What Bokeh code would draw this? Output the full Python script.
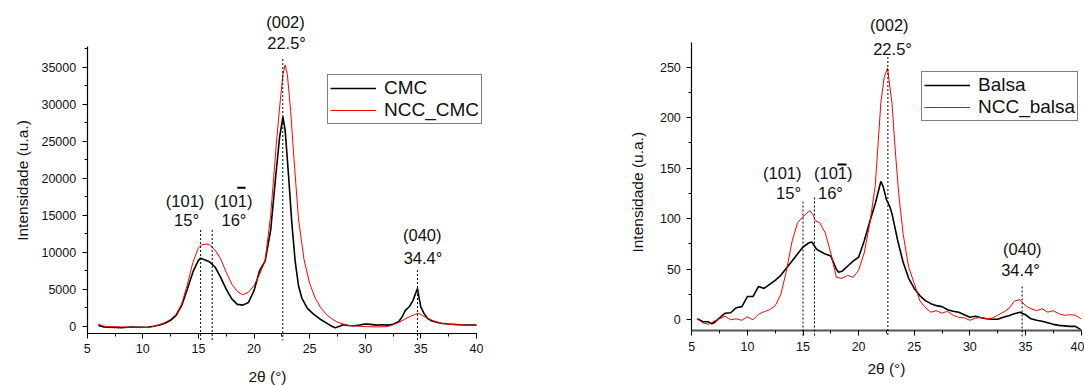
import math
from bokeh.plotting import figure
from bokeh.models import Range1d, SingleIntervalTicker, Label, Arrow, Legend
from bokeh.layouts import row
from bokeh.embed import file_html
from bokeh.resources import INLINE

# ---------------- data: left panel (CMC) ----------------
cmc_x = [6.0, 6.5, 7, 8, 9, 10, 10.5, 11, 11.5, 12, 12.5, 13, 13.5, 14, 14.5, 15, 15.2, 15.5, 16, 16.5,
         17, 17.5, 18, 18.5, 19, 19.5, 20, 20.5, 21, 21.5, 22, 22.3, 22.6, 22.8, 23.1, 23.4, 23.7, 24.0,
         24.3, 24.8, 25.3, 26, 26.5, 27, 27.3, 27.7, 28, 28.5, 29, 29.5, 30, 30.5, 31, 31.5, 32, 32.5,
         33, 33.3, 33.6, 34, 34.3, 34.5, 34.7, 34.85, 35, 35.3, 35.6, 36, 36.8, 37.5, 38.5, 40]
cmc_y = [100, -100, -150, -200, -100, -150, -100, 0, 150, 400, 800, 1450, 2800, 5000, 7300, 8900, 9200, 9000, 8700, 8000,
         6600, 5000, 3700, 2950, 2850, 3200, 4800, 7500, 8800, 13000, 21000, 25500, 28300, 26500, 20500, 14000, 8800, 5500,
         3800, 2400, 1700, 900, 450, 0, -200, 0, 200, 100, 50, 150, 300, 250, 150, 200, 150, 250,
         600, 1200, 2100, 2700, 3500, 4300, 5100, 3800, 2600, 1700, 1050, 700, 400, 300, 200, 150]

ncc_cmc_x = [6.0, 6.5, 7, 8, 9, 10, 10.5, 11, 11.5, 12, 12.5, 13, 13.5, 14, 14.5, 15, 15.3, 15.7, 16, 16.5,
             17, 17.5, 18, 18.5, 19, 19.5, 20, 20.5, 21, 21.5, 22, 22.3, 22.6, 22.8, 23.0, 23.3, 23.6, 24.0,
             24.5, 25, 25.5, 26, 26.5, 27, 27.5, 28, 28.5, 29, 30, 31, 32, 32.5, 33, 33.5, 34, 34.5, 34.8,
             35.2, 35.6, 36, 36.5, 37, 38, 39, 40]
ncc_cmc_y = [300, 0, -50, -100, -150, -150, -200, 0, 200, 500, 900, 1600, 3000, 5600, 8600, 10600, 11000, 11100, 11000, 10300,
             9100, 7300, 5700, 4700, 4250, 4600, 5500, 7000, 8800, 15000, 24500, 29500, 34000, 35300, 34000, 29000, 22500, 14500,
             9000, 5800, 3800, 2500, 1600, 1000, 550, 300, 100, 50, -50, -100, -50, 200, 500, 900, 1300, 1600, 1750,
             1400, 1100, 800, 550, 350, 200, 150, 100]

# ---------------- data: right panel (Balsa) ----------------
balsa_x = [5.5, 6, 6.5, 6.8, 7, 7.5, 8, 8.5, 9, 9.5, 10, 10.5, 11, 11.5, 12, 12.5, 13, 13.5, 14, 14.5, 15,
           15.5, 15.8, 16.2, 16.5, 17, 17.5, 18, 18.2, 18.5, 19, 19.5, 20, 20.5, 21, 21.5, 22, 22.2, 22.5,
           22.8, 23, 23.5, 24, 24.5, 25, 25.5, 26, 26.5, 27, 27.5, 28, 28.5, 29, 29.5, 30, 30.5, 31, 31.5,
           32, 32.5, 33, 33.5, 34, 34.5, 35, 35.5, 36, 36.5, 37, 37.5, 38, 38.5, 39, 39.5, 40]
balsa_y = [1, -2, -2, -4, -3, 2, 6.5, 7, 12, 13, 23, 23, 33, 31, 35, 39, 44, 51, 58, 65, 72,
           76, 77, 70, 68, 65, 63, 50, 47, 48, 53, 58, 62, 78, 97, 115, 137, 132, 119,
           112, 105, 79, 57, 41, 31, 24, 19, 16, 14, 13, 10, 8.5, 7.5, 5, 2.5, 3.5, 2, 1,
           0.5, 0.5, 2.5, 4, 6, 7.5, 5, 1, -0.5, -1.5, -3, -4.5, -5.5, -6, -6.5, -6.5, -10]

ncc_balsa_x = [5.5, 6, 6.5, 7, 7.5, 8, 8.5, 9, 9.5, 10, 10.5, 11, 11.5, 12, 12.5, 13, 13.5, 14, 14.5, 15,
               15.3, 15.6, 15.9, 16.1, 16.5, 17, 17.5, 18, 18.5, 19, 19.5, 20, 20.5, 21, 21.5, 22, 22.3, 22.6,
               23, 23.3, 23.6, 24, 24.5, 25, 25.5, 26, 26.5, 27, 27.5, 28, 28.5, 29, 29.5, 30, 30.5, 31, 31.5,
               32, 32.5, 33, 33.5, 34, 34.5, 35, 35.5, 36, 36.5, 37, 37.5, 38, 38.5, 39, 39.5, 40]
ncc_balsa_y = [1, -3, -4.5, -1.5, 1, 3.5, 0, 1, -0.5, 3, 0, 5.5, 8, 10, 14, 25, 48, 77, 96, 102,
               105, 108, 104, 98, 96, 86, 66, 42, 41, 44, 42, 49, 66, 95, 133, 215, 240, 249,
               214, 167, 125, 85, 52, 36, 19, 12, 7.5, 9, 6.5, 8.5, 4.5, 2.5, 2, -0.5, 1.5, 2.5, 1,
               1.5, 4.5, 7.5, 11, 18.5, 20, 14, 11, 9, 11, 7.5, 9, 6, 4.5, 5, 4.5, 1]

# peak marker lines (x position, top y)
left_peaks_x = [15.2, 16.24, 22.59, 34.7]
left_peaks_top = [13000, 13000, 36100, 7600]
right_peaks_x = [15.0, 16.03, 22.63, 34.7]
right_peaks_top = [117, 121, 260, 33]

FONT = "Liberation Sans"
TXT = "#111111"


def make_fig(width, x_range, y_range, x_bounds, y_bounds, x_axis_at, y_interval):
    p = figure(width=width, height=385, output_backend="svg", toolbar_location=None,
               x_range=x_range, y_range=y_range, min_border=0)
    p.outline_line_color = None
    p.grid.visible = False
    p.background_fill_color = "white"
    p.border_fill_color = "white"
    p.xaxis.ticker = SingleIntervalTicker(interval=5, num_minor_ticks=2)
    p.yaxis.ticker = SingleIntervalTicker(interval=y_interval, num_minor_ticks=2)
    p.xaxis.bounds = x_bounds
    p.yaxis.bounds = y_bounds
    p.xaxis.fixed_location = x_axis_at
    p.yaxis.fixed_location = x_bounds[0]
    for ax in (p.xaxis, p.yaxis):
        ax.axis_line_color = "black"
        ax.axis_line_width = 1.2
        ax.major_tick_line_color = "black"
        ax.minor_tick_line_color = "black"
        ax.major_tick_in = 0
        ax.major_tick_out = 5
        ax.minor_tick_in = 0
        ax.minor_tick_out = 3
        ax.major_label_text_font = FONT
        ax.major_label_text_font_size = "12.5px"
        ax.major_label_text_color = TXT
    p.xaxis.major_label_standoff = 6
    p.yaxis.major_label_standoff = 6
    return p


def add_label(p, x, y, text, size="16.5px", angle=0.0):
    p.add_layout(Label(x=x, y=y, text=text, text_align="center", text_baseline="middle",
                       text_font=FONT, text_font_size=size, text_color=TXT, angle=angle))


def add_vline(p, x, top, bottom):
    p.add_layout(Arrow(end=None, x_start=x, y_start=top, x_end=x, y_end=bottom,
                       line_dash="2 2", line_width=1, line_color="black"))


# ---------------- left figure (frame = whole canvas, 11.12 px per degree) ----------------
p1 = make_fig(600, Range1d(-2.797, 51.16), Range1d(-8014, 44014), (5, 40), (-946, 37838), -946, 5000)
l1 = p1.line(cmc_x, cmc_y, line_color="black", line_width=1.6)
l2 = p1.line(ncc_cmc_x, ncc_cmc_y, line_color="#ff0000", line_width=1)
for xv, tv in zip(left_peaks_x, left_peaks_top):
    add_vline(p1, xv, tv, -1930)
add_label(p1, -0.82, 19690, "Intensidade (u.a.)", size="15.5px", angle=math.pi / 2)
add_label(p1, 21.21, -6800, "2θ (°)", size="15.5px")
add_label(p1, 22.83, 41080, "(002)")
add_label(p1, 22.93, 38240, "22.5°")
add_label(p1, 13.8, 16986, "(101)")
add_label(p1, 13.93, 14284, "15°")
add_label(p1, 18.13, 16986, "(101)")
add_label(p1, 18.2, 14284, "16°")
add_label(p1, 35.13, 12260, "(040)")
add_label(p1, 35.2, 9190, "34.4°")
p1.add_layout(Arrow(end=None, x_start=18.49, y_start=18700, x_end=19.24, y_end=18700,
                    line_width=2, line_color="black"))
leg1 = Legend(items=[("CMC", [l1]), ("NCC_CMC", [l2])], location=(327, 261))
p1.add_layout(leg1)

# ---------------- right figure ----------------
p2 = make_fig(484, Range1d(-3.21, 40.31), Range1d(-65.0, 315.9), (5, 40), (-10.6, 274.7), -10.6, 50)
p2.xaxis.axis_line_color = "#555555"
p2.xaxis.axis_line_width = 2
l3 = p2.line(balsa_x, balsa_y, line_color="black", line_width=1.6)
l4 = p2.line(ncc_balsa_x, ncc_balsa_y, line_color="#ff0000", line_width=1)
for xv, tv in zip(right_peaks_x, right_peaks_top):
    add_vline(p2, xv, tv, -16.5)
add_label(p2, 0.12, 126.2, "Intensidade (u.a.)", size="15.5px", angle=math.pi / 2)
add_label(p2, 22.5, -48.1, "2θ (°)", size="15.5px")
add_label(p2, 22.76, 291.2, "(002)")
add_label(p2, 23.05, 268.1, "22.5°")
add_label(p2, 13.13, 145.1, "(101)")
add_label(p2, 13.7, 125.2, "15°")
add_label(p2, 17.72, 145.1, "(101)")
add_label(p2, 17.47, 125.2, "16°")
add_label(p2, 34.72, 70.2, "(040)")
add_label(p2, 34.56, 49.5, "34.4°")
p2.add_layout(Arrow(end=None, x_start=18.10, y_start=153.7, x_end=18.91, y_end=153.7,
                    line_width=2, line_color="black"))
leg2 = Legend(items=[("Balsa", [l3]), ("NCC_balsa", [l4])], location=(321, 264))
p2.add_layout(leg2)

for lg in (leg1, leg2):
    lg.label_text_font = FONT
    lg.label_text_font_size = "19px"
    lg.label_text_color = TXT
    lg.label_text_line_height = 1.0
    lg.glyph_width = 46
    lg.glyph_height = 16
    lg.label_height = 16
    lg.label_standoff = 8
    lg.padding = 2
    lg.spacing = 0
    lg.margin = 0
    lg.border_line_color = "black"
    lg.border_line_width = 1
    lg.background_fill_color = "white"
    lg.background_fill_alpha = 1.0

layout = row(p1, p2)
open("out.html", "w").write(file_html(layout, INLINE))
